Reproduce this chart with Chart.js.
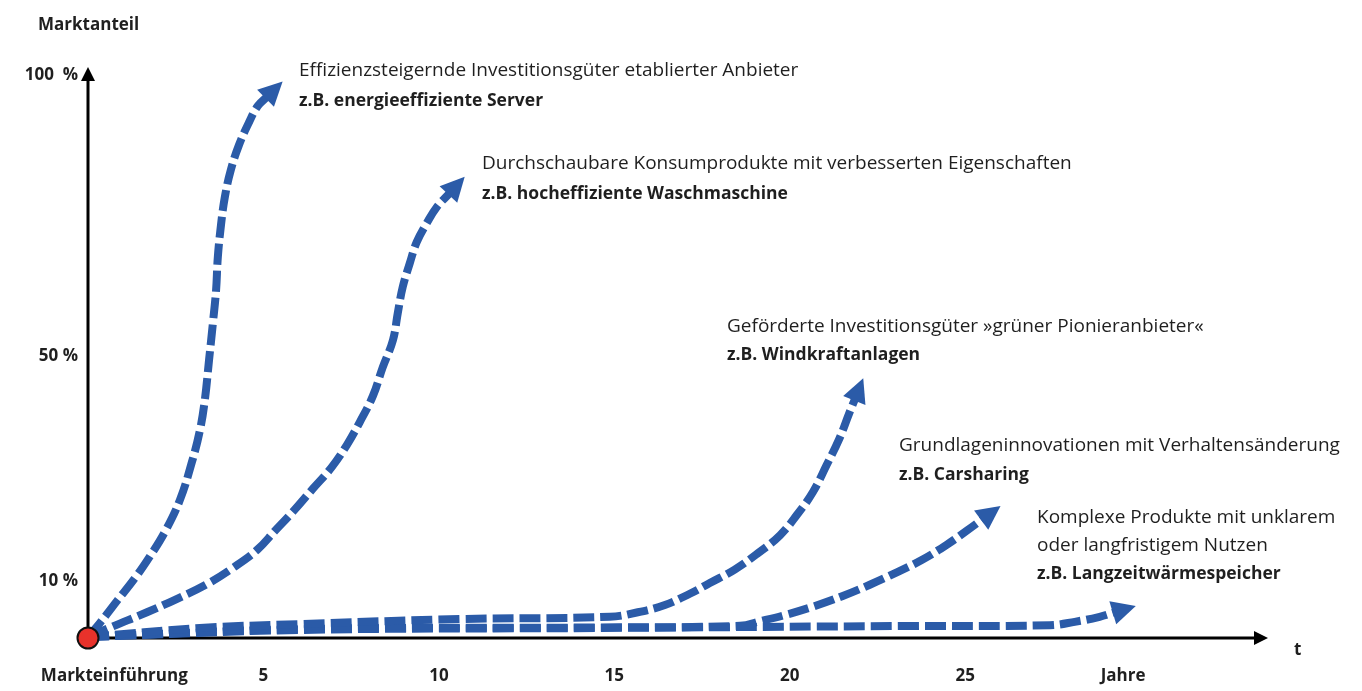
<!DOCTYPE html>
<html>
<head>
<meta charset="utf-8">
<script src="https://cdn.jsdelivr.net/npm/chart.js@4.4.0/dist/chart.umd.min.js"></script>
<style>
html, body { margin: 0; padding: 0; background: #fff; }
</style>
</head>
<body>
<canvas id="myChart" width="1362" height="691"></canvas>
<script>
// Jahre nach Markteinfuehrung (t) und Marktanteil in %
const serverT = [0, 0.34, 0.85, 1.34, 1.77, 2.19, 2.62, 2.96, 3.19, 3.33, 3.45, 3.56, 3.65, 3.70, 3.79, 3.90, 4.07, 4.30, 4.59, 4.84, 5.10];
const serverY = [0, 2.5, 6.6, 10.5, 14.4, 18.7, 24.4, 31.1, 36.8, 42.2, 49.3, 55.9, 61.7, 67.6, 73.3, 78.3, 83.1, 87.5, 91.6, 94.5, 96.1];

const waschT = [0, 0.71, 1.68, 2.54, 3.39, 4.13, 4.82, 5.33, 5.84, 6.41, 6.93, 7.38, 7.75, 8.12, 8.40, 8.69, 8.83, 8.97, 9.17, 9.37, 9.66, 9.94, 10.31];
const waschY = [0, 1.9, 4.4, 6.8, 9.4, 12.3, 15.5, 18.9, 22.3, 26.4, 30.1, 34.2, 38.3, 42.9, 48.0, 52.8, 57.7, 62.3, 66.5, 70.3, 73.7, 76.5, 79.0];

const windT = [0, 3.19, 6.04, 10.6, 14.87, 15.67, 16.44, 17.15, 17.72, 18.43, 19.09, 19.72, 20.2, 20.66, 21.05, 21.42, 21.68, 21.86];
const windY = [0, 1.6, 2.3, 3.2, 3.6, 4.4, 5.7, 7.7, 9.6, 12.0, 14.9, 18.1, 21.7, 25.8, 30.6, 35.4, 39.6, 42.4];

const carT = [0, 6.04, 14.59, 18.58, 19.15, 19.86, 20.66, 21.51, 22.28, 23.05, 23.76, 24.47, 25.04, 25.50];
const carY = [0, 1.4, 1.7, 2.0, 2.8, 3.9, 5.4, 7.3, 9.3, 11.5, 13.7, 16.4, 18.9, 21.0];

const speicherT = [0, 6.04, 14.59, 23.13, 27.41, 28.12, 28.83, 29.26];
const speicherY = [0, 1.25, 1.6, 1.95, 2.1, 2.7, 3.6, 4.4];

const yTickValues = [10, 50, 100];
const yTickLabels = ['10 %', '50 %', '100  %'];
const xTickValues = [0.75, 5, 10, 15, 20, 25, 29.5];
const xTickLabels = ['Markteinführung', '5', '10', '15', '20', '25', 'Jahre'];

const labels = [
    ['Effizienzsteigernde Investitionsgüter etablierter Anbieter', 'z.B. energieeffiziente Server'],
    ['Durchschaubare Konsumprodukte mit verbesserten Eigenschaften', 'z.B. hocheffiziente Waschmaschine'],
    ['Geförderte Investitionsgüter »grüner Pionieranbieter«', 'z.B. Windkraftanlagen'],
    ['Grundlageninnovationen mit Verhaltensänderung', 'z.B. Carsharing'],
    ['Komplexe Produkte mit unklarem', 'oder langfristigem Nutzen', 'z.B. Langzeitwärmespeicher']
];

const blue = '#2b5ba8';
const textColor = '#1f1f1f';
const fontName = '"Open Sans"';

function toPoints(t, y) {
    const pts = [];
    for (let i = 0; i < t.length; i++) {
        pts.push({ x: t[i], y: y[i] });
    }
    return pts;
}

const series = [
    toPoints(serverT, serverY),
    toPoints(waschT, waschY),
    toPoints(windT, windY),
    toPoints(carT, carY),
    toPoints(speicherT, speicherY)
];

// text blocks: left x, first line centre y, line step
const labelPos = [
    [299, 71, 30],
    [482, 164, 30],
    [727, 327, 28],
    [899, 446, 29],
    [1037, 518, 28]
];

const decor = {
    id: 'decor',
    beforeDatasetsDraw(chart) {
        const ctx = chart.ctx;
        const xs = chart.scales.x, ys = chart.scales.y;
        const x0 = xs.getPixelForValue(0), y0 = ys.getPixelForValue(0);
        const top = ys.getPixelForValue(100) - 8;
        const right = chart.chartArea.right;
        ctx.save();
        ctx.strokeStyle = '#000';
        ctx.fillStyle = '#000';
        ctx.lineWidth = 3;
        ctx.beginPath();
        ctx.moveTo(x0, y0 + 1);
        ctx.lineTo(x0, top + 10);
        ctx.moveTo(x0, y0 + 1);
        ctx.lineTo(right - 10, y0 + 1);
        ctx.stroke();
        ctx.beginPath();
        ctx.moveTo(x0, top);
        ctx.lineTo(x0 - 7, top + 14);
        ctx.lineTo(x0 + 7, top + 14);
        ctx.closePath();
        ctx.fill();
        ctx.beginPath();
        ctx.moveTo(right + 1, y0 + 1);
        ctx.lineTo(right - 13, y0 - 6);
        ctx.lineTo(right - 13, y0 + 8);
        ctx.closePath();
        ctx.fill();
        ctx.restore();
    },
    afterDatasetsDraw(chart) {
        const ctx = chart.ctx;
        ctx.save();
        ctx.fillStyle = blue;
        chart.data.datasets.forEach((ds, i) => {
            const pts = chart.getDatasetMeta(i).data;
            const p = pts[pts.length - 1];
            let cx = p.cp1x, cy = p.cp1y;
            if (cx === undefined || (Math.abs(cx - p.x) < 0.5 && Math.abs(cy - p.y) < 0.5)) {
                cx = pts[pts.length - 2].x; cy = pts[pts.length - 2].y;
            }
            let dx = p.x - cx, dy = p.y - cy;
            const len = Math.hypot(dx, dy);
            dx /= len; dy /= len;
            const L = 22, W = 12;
            ctx.beginPath();
            ctx.moveTo(p.x + dx * L, p.y + dy * L);
            ctx.lineTo(p.x - dy * W - dx * 2, p.y + dx * W - dy * 2);
            ctx.lineTo(p.x + dy * W - dx * 2, p.y - dx * W - dy * 2);
            ctx.closePath();
            ctx.fill();
        });
        ctx.restore();
    },
    afterDraw(chart) {
        const ctx = chart.ctx;
        const xs = chart.scales.x, ys = chart.scales.y;
        ctx.save();
        // Markteinfuehrung dot
        ctx.beginPath();
        ctx.arc(xs.getPixelForValue(0), ys.getPixelForValue(0) + 1, 10.5, 0, Math.PI * 2);
        ctx.fillStyle = '#e8322b';
        ctx.fill();
        ctx.lineWidth = 2;
        ctx.strokeStyle = '#111';
        ctx.stroke();

        ctx.fillStyle = textColor;
        ctx.textBaseline = 'middle';
        ctx.textAlign = 'left';
        ctx.font = 'bold 17px ' + fontName;
        ctx.fillText('Marktanteil', 38, 25);
        ctx.fillText('t', 1294, 650);

        labels.forEach((lines, i) => {
            const [lx, ly, step] = labelPos[i];
            lines.forEach((txt, j) => {
                ctx.font = txt.startsWith('z.B.') ? 'bold 17.5px ' + fontName : '19px ' + fontName;
                ctx.fillText(txt, lx, ly + j * step);
            });
        });
        ctx.restore();
    }
};

new Chart(document.getElementById('myChart'), {
    type: 'scatter',
    data: {
        datasets: series.map(pts => ({
            data: pts,
            showLine: true,
            borderColor: blue,
            borderWidth: 8,
            borderDash: [21, 6],
            pointRadius: 0,
            tension: 0.4,
            clip: false,
            fill: false
        }))
    },
    options: {
        responsive: false,
        animation: false,
        layout: { padding: { top: 75, right: 95, left: 0, bottom: 0 } },
        plugins: {
            legend: { display: false },
            tooltip: { enabled: false }
        },
        scales: {
            x: {
                type: 'linear',
                min: 0,
                max: 33.6,
                grid: { display: false, drawTicks: false },
                border: { display: false },
                afterBuildTicks: s => { s.ticks = xTickValues.map(v => ({ value: v })); },
                afterFit: s => { s.height = 54; },
                ticks: {
                    autoSkip: false,
                    maxRotation: 0,
                    padding: 29,
                    color: textColor,
                    font: { family: fontName, size: 17, weight: 'bold' },
                    callback: (v, i) => xTickLabels[i]
                }
            },
            y: {
                min: 0,
                max: 100,
                grid: { display: false, drawTicks: false },
                border: { display: false },
                afterBuildTicks: s => { s.ticks = yTickValues.map(v => ({ value: v })); },
                afterFit: s => { s.width = 88; },
                ticks: {
                    padding: 10,
                    color: textColor,
                    font: { family: fontName, size: 17, weight: 'bold' },
                    callback: (v, i) => yTickLabels[i]
                }
            }
        }
    },
    plugins: [decor]
});
</script>
</body>
</html>
